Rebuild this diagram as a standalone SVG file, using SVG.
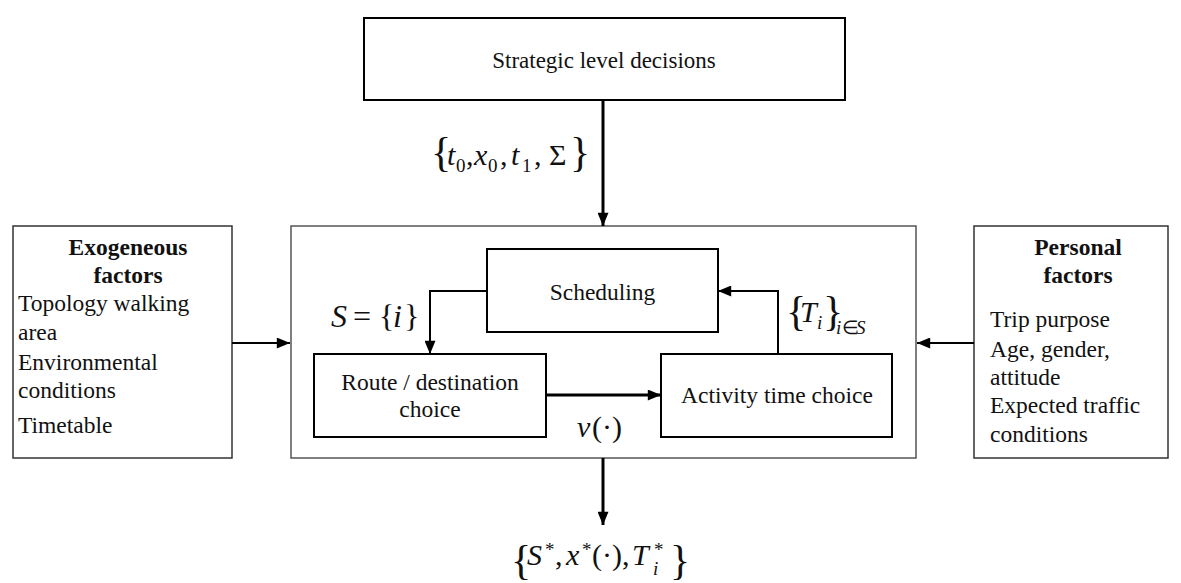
<svg xmlns="http://www.w3.org/2000/svg" width="1181" height="583" viewBox="0 0 1181 583">
  <style>
    .box { fill: #fff; stroke: #000; stroke-width: 2; }
    .frame { fill: #fff; stroke: #555; stroke-width: 1.5; }
    .side { fill: #fff; stroke: #333; stroke-width: 1.5; }
    .lbl { font-family: 'Liberation Serif', serif; font-size: 23.5px; fill: #111; }
    .mid { text-anchor: middle; }
    .bold { font-weight: bold; }
    .m { font-family: 'Liberation Serif', serif; font-size: 30px; font-style: italic; fill: #111; }
    .up { font-style: normal; }
    .sub { font-size: 19px; }
    .br { font-family: 'Liberation Serif', serif; font-size: 42px; fill: #111; }
    .wire { fill: none; stroke: #000; stroke-width: 3; }
    .thin { fill: none; stroke: #000; stroke-width: 2; }
  </style>
  <defs>
    <marker id="head" viewBox="0 0 12 10" refX="12" refY="5" markerWidth="14" markerHeight="11" markerUnits="userSpaceOnUse" orient="auto">
      <path d="M0,0 L12,5 L0,10 Z" fill="#000"/>
    </marker>
  </defs>

  <g id="strategic">
    <rect class="box" x="364" y="18" width="481" height="82"/>
    <text class="lbl mid" x="604" y="68" style="font-size:23px">Strategic level decisions</text>
  </g>

  <g id="tactical">
    <rect class="frame" x="291" y="226" width="625" height="232"/>
  </g>

  <g id="exogeneous">
    <rect class="side" x="13" y="226" width="219" height="232"/>
    <text class="lbl mid bold" x="128" y="255">Exogeneous</text>
    <text class="lbl mid bold" x="128" y="283">factors</text>
    <text class="lbl" x="18" y="311">Topology walking</text>
    <text class="lbl" x="18" y="340">area</text>
    <text class="lbl" x="18" y="370">Environmental</text>
    <text class="lbl" x="18" y="398">conditions</text>
    <text class="lbl" x="18" y="433">Timetable</text>
  </g>

  <g id="personal">
    <rect class="side" x="974" y="226" width="194" height="232"/>
    <text class="lbl mid bold" x="1078" y="255">Personal</text>
    <text class="lbl mid bold" x="1078" y="283">factors</text>
    <text class="lbl" x="990" y="327">Trip purpose</text>
    <text class="lbl" x="990" y="357">Age, gender,</text>
    <text class="lbl" x="990" y="385">attitude</text>
    <text class="lbl" x="990" y="413">Expected traffic</text>
    <text class="lbl" x="990" y="442">conditions</text>
  </g>

  <g id="scheduling">
    <rect class="box" x="487" y="249" width="231" height="83"/>
    <text class="lbl mid" x="602.5" y="300">Scheduling</text>
  </g>

  <g id="route">
    <rect class="box" x="314" y="354" width="232" height="83"/>
    <text class="lbl mid" x="430" y="390">Route / destination</text>
    <text class="lbl mid" x="430" y="417">choice</text>
  </g>

  <g id="activity">
    <rect class="box" x="661" y="354" width="231" height="83"/>
    <text class="lbl mid" x="777" y="403">Activity time choice</text>
  </g>

  <g id="connectors">
    <path class="wire" d="M603,100 V226" marker-end="url(#head)"/>
    <path class="thin" d="M232,343 H290" marker-end="url(#head)"/>
    <path class="thin" d="M974,343 H917" marker-end="url(#head)"/>
    <path class="wire" d="M603,458 V525" marker-end="url(#head)"/>
    <path class="thin" d="M487,291 H430 V354" marker-end="url(#head)"/>
    <path class="thin" d="M778,354 V291 H718" marker-end="url(#head)"/>
    <path class="wire" d="M546,395 H661" marker-end="url(#head)"/>
  </g>

  <g id="labels">
    <!-- {t0, x0, t1, Σ} -->
    <text class="br" x="431" y="166">{</text>
    <text class="m" x="447" y="165">t</text>
    <text class="m up sub" x="456" y="172">0</text>
    <text class="m up" x="466" y="165">,</text>
    <text class="m" x="474" y="165">x</text>
    <text class="m up sub" x="488" y="172">0</text>
    <text class="m up" x="500" y="165">,</text>
    <text class="m" x="511" y="165">t</text>
    <text class="m up sub" x="522" y="172">1</text>
    <text class="m up" x="534" y="165">,</text>
    <text class="m up" x="549" y="165">Σ</text>
    <text class="br" x="570" y="166">}</text>

    <!-- S = {i} -->
    <text class="m" x="331" y="327" style="font-size:32px">S</text>
    <text class="m up" x="353" y="327" style="font-size:32px">=</text>
    <text class="m up" x="379" y="327" style="font-size:32px">{</text>
    <text class="m" x="393" y="327" style="font-size:32px">i</text>
    <text class="m up" x="404" y="327" style="font-size:32px">}</text>

    <!-- {Ti}i∈S -->
    <text class="br" x="786" y="325">{</text>
    <text class="m" x="800" y="322">T</text>
    <text class="m sub" x="817" y="329">i</text>
    <text class="br" x="823" y="325">}</text>
    <text class="m sub" x="836" y="334">i</text>
    <text class="m up sub" x="842" y="334">∈</text>
    <text class="m sub" x="856" y="334">S</text>

    <!-- v(·) -->
    <text class="m" x="577" y="437">v</text>
    <text class="m up" x="592" y="437">(·)</text>

    <!-- {S*, x*(·), Ti*} -->
    <text class="br" x="511" y="574">{</text>
    <text class="m" x="527" y="565">S</text>
    <text class="m up sub" x="545" y="556">*</text>
    <text class="m up" x="555" y="565">,</text>
    <text class="m" x="566" y="565">x</text>
    <text class="m up sub" x="582" y="556">*</text>
    <text class="m up" x="592" y="565">(·),</text>
    <text class="m" x="632" y="565">T</text>
    <text class="m up sub" x="654" y="556">*</text>
    <text class="m sub" x="653" y="575">i</text>
    <text class="br" x="670" y="574">}</text>
  </g>
</svg>
